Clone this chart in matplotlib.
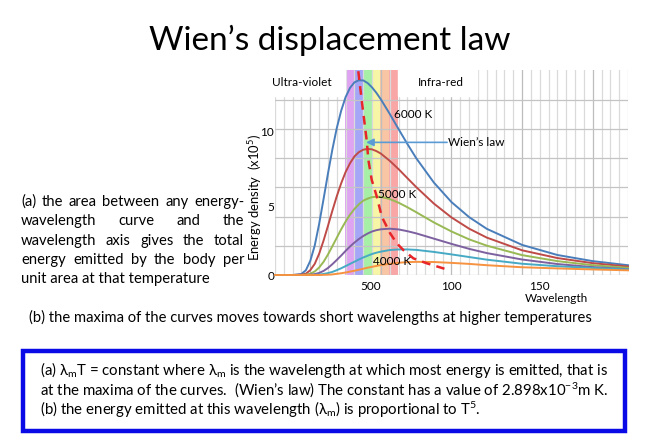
"""Wien's displacement law slide: black-body curves with a text panel."""

import matplotlib.pyplot as plt
from matplotlib.patches import Rectangle

plt.rcParams["font.family"] = ["Lato", "DejaVu Sans"]
plt.rcParams["mathtext.fontset"] = "custom"
plt.rcParams["mathtext.rm"] = "Lato"
plt.rcParams["mathtext.default"] = "regular"

# %% data (wavelength in nm, energy density in x10^5)
wavelength = [0, 100, 150, 175, 200, 225, 250, 275, 300, 325, 350, 375, 400,
              425, 450, 475, 500, 525, 550, 575, 600, 650, 700, 750, 800, 900,
              1000, 1100, 1200, 1400, 1600, 1800, 2000]
e_6000 = [0, 0.00, 0.07, 0.33, 0.97, 2.01, 3.49, 5.19, 6.94, 8.59, 10.06, 11.25,
          12.18, 12.81, 13.19, 13.33, 13.32, 13.14, 12.84, 12.46, 12.02, 11.03,
          9.99, 8.97, 8.00, 6.33, 4.99, 3.96, 3.16, 2.06, 1.37, 0.95, 0.67]
e_5500 = [0, 0.00, 0.02, 0.09, 0.33, 0.76, 1.45, 2.35, 3.36, 4.40, 5.39, 6.28,
          7.05, 7.65, 8.12, 8.41, 8.58, 8.63, 8.60, 8.48, 8.31, 7.82, 7.25, 6.63,
          6.02, 4.89, 3.94, 3.17, 2.56, 1.69, 1.16, 0.81, 0.58]
e_5000 = [0, 0.00, 0.00, 0.02, 0.09, 0.24, 0.51, 0.90, 1.40, 1.97, 2.55, 3.13,
          3.66, 4.13, 4.52, 4.84, 5.09, 5.23, 5.33, 5.36, 5.35, 5.20, 4.95, 4.64,
          4.30, 3.60, 2.98, 2.44, 2.01, 1.36, 0.95, 0.67, 0.49]
e_4500 = [0, 0.00, 0.00, 0.00, 0.02, 0.06, 0.14, 0.28, 0.48, 0.74, 1.03, 1.33,
          1.65, 1.95, 2.22, 2.46, 2.67, 2.84, 2.98, 3.07, 3.13, 3.17, 3.12, 3.00,
          2.85, 2.49, 2.13, 1.79, 1.50, 1.06, 0.75, 0.54, 0.40]
e_4000 = [0, 0.00, 0.00, 0.00, 0.00, 0.01, 0.03, 0.07, 0.13, 0.21, 0.33, 0.46,
          0.61, 0.76, 0.91, 1.06, 1.20, 1.32, 1.44, 1.53, 1.60, 1.71, 1.75, 1.75,
          1.72, 1.58, 1.41, 1.23, 1.05, 0.77, 0.60, 0.48, 0.38]
e_3500 = [0, 0.00, 0.00, 0.00, 0.00, 0.00, 0.00, 0.01, 0.02, 0.04, 0.08, 0.12,
          0.17, 0.23, 0.29, 0.36, 0.43, 0.50, 0.56, 0.62, 0.68, 0.77, 0.84, 0.88,
          0.90, 0.89, 0.83, 0.76, 0.67, 0.53, 0.45, 0.38, 0.32]

# dashed locus of the maxima
wien_wl = [472, 491, 520, 529, 548, 577, 605, 652, 690, 727, 784, 860, 960]
wien_e = [13.95, 11.99, 9.16, 7.88, 6.51, 5.36, 3.99, 2.86, 2.17, 1.71, 1.14,
          0.80, 0.43]

# visible spectrum bands (nm)
band_edges = [397, 450, 500, 548, 595, 645, 699]
band_colors = ["#dea4f2", "#a6a6f6", "#a6efa6", "#f6f6a6", "#f8c6a4", "#f8a6a6"]

x_tick_pos = [540, 1000, 1500]
x_tick_labels = ["500", "100", "150"]
y_tick_pos = [0, 4.7, 9.8]
y_tick_labels = ["0", "5", "10"]

curves = [
    (e_6000, "#4a7ebb"),
    (e_5500, "#be4b48"),
    (e_5000, "#98b954"),
    (e_4500, "#7d60a0"),
    (e_4000, "#46aac5"),
    (e_3500, "#f69240"),
]

left_lines = [
    "(a) the area between any energy-",
    "wavelength curve and the",
    "wavelength axis gives the total",
    "energy emitted by the body per",
    "unit area at that temperature",
]
box_lines = [
    "(a) $\\lambda_m$T = constant where $\\lambda_m$ is the wavelength at which "
    "most energy is emitted, that is",
    "at the maxima of the curves.  (Wien\u2019s law) The constant has a value of "
    "2.898x10$^{-3}$m K.",
    "(b) the energy emitted at this wavelength ($\\lambda_m$) is proportional "
    "to T$^5$.",
]

# %% figure, laid out in pixels of the 646x444 slide
W, H = 646, 444
fig = plt.figure(figsize=(W / 100, H / 100), dpi=100)


def fx(px):
    return px / W


def fy(py):
    return 1 - py / H


ax = fig.add_axes([fx(275), fy(275), (628 - 275) / W, (275 - 70.5) / H])
ax.set_xlim(0, 2000)
ax.set_ylim(0, 14)
for s in ax.spines.values():
    s.set_visible(False)

for x0, x1, c in zip(band_edges[:-1], band_edges[1:], band_colors):
    ax.axvspan(x0, x1, color=c, lw=0, zorder=0.5)

for i in range(41):
    x = i * 50
    major = (x - 200) % 400 == 0
    ax.axvline(x, color="#bdbdbd" if major else "#dadada", lw=0.9, zorder=1)
for y in range(0, 13, 2):
    ax.axhline(y, color="#c4c4c4", lw=0.9, zorder=1)

# white label boxes over the top of the grid
ax.add_patch(Rectangle((-20, 12.25), 417, 2, color="white", zorder=1.6))
ax.add_patch(Rectangle((699, 12.25), 445, 2, color="white", zorder=1.6))

for vals, col in curves:
    ax.plot(wavelength, vals, color=col, lw=1.4, zorder=2, clip_on=False)

ax.plot(wien_wl, wien_e, color="#e8262a", lw=1.8, ls=(0, (3.5, 2.5)), zorder=3)

ax.annotate("", xy=(516, 9.08), xytext=(975, 9.08),
            arrowprops=dict(arrowstyle="-|>", color="#5b9bd5", lw=1.2,
                            mutation_scale=11, shrinkA=0, shrinkB=0), zorder=4)
ax.text(980, 9.08, "Wien\u2019s law", fontsize=8.5, va="center", zorder=4)
ax.text(785, 10.96, "6000 K", fontsize=8.5, ha="center", va="center", zorder=4)
ax.text(692, 5.48, "5000 K", fontsize=8.5, ha="center", va="center", zorder=4)
ax.text(663, 0.89, "4000 K", fontsize=8.5, ha="center", va="center", zorder=4)

ax.set_xticks(x_tick_pos, x_tick_labels)
ax.set_yticks(y_tick_pos, y_tick_labels)
ax.tick_params(length=0, labelsize=8.5)
ax.tick_params(axis="x", pad=4)
ax.tick_params(axis="y", pad=0.5)

fig.text(fx(272), fy(83), "Ultra-violet", fontsize=8.5, va="center")
fig.text(fx(418), fy(82), "Infra-red", fontsize=8.5, va="center")
fig.text(fx(556), fy(299), "Wavelength", fontsize=8.5, ha="center", va="center")
fig.text(fx(255), fy(198), "Energy density  (x10$^5$)", fontsize=9.4,
         rotation=90, ha="center", va="center")

# %% slide text
fig.text(fx(330), fy(40), "Wien\u2019s displacement law", fontsize=24,
         ha="center", va="center")

renderer = fig.canvas.get_renderer()
x_left, x_right = 21, 244
for i, line in enumerate(left_lines):
    y = fy(202 + i * 19.3)
    if i == len(left_lines) - 1:
        fig.text(fx(x_left), y, line, fontsize=10.6, va="center")
        continue
    # justified line: spread the words between the two margins
    words = line.split()
    texts = [fig.text(0, y, w, fontsize=10.6, va="center") for w in words]
    widths = [t.get_window_extent(renderer).width for t in texts]
    gap = (x_right - x_left - sum(widths)) / (len(words) - 1)
    x = x_left
    for t, w in zip(texts, widths):
        t.set_x(fx(x))
        x += w + gap

fig.text(fx(29), fy(317),
         "(b) the maxima of the curves moves towards short wavelengths at "
         "higher temperatures", fontsize=10.6, va="center")

fig.add_artist(Rectangle((fx(23), fy(431)), (625 - 23) / W, (431 - 351) / H,
                         transform=fig.transFigure, fill=False,
                         edgecolor="#0a0ae6", lw=3.2))
for i, line in enumerate(box_lines):
    fig.text(fx(40), fy(370 + i * 20), line, fontsize=10.8, va="center")

fig.savefig("out.png", dpi=100)
